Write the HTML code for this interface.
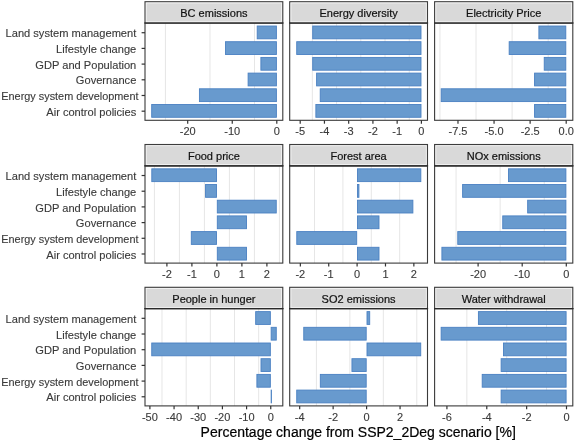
<!DOCTYPE html>
<html><head><meta charset="utf-8"><style>
html,body{margin:0;padding:0;background:#fff;width:575px;height:441px;overflow:hidden}
svg{display:block;font-family:"Liberation Sans",sans-serif;will-change:transform}
text.a{fill:#3a3a3a;stroke:#3a3a3a;stroke-width:0.12px}
text.s{fill:#111;stroke:#111;stroke-width:0.2px}
text.t{fill:#000;stroke:#000;stroke-width:0.2px}
</style></head><body>
<svg width="575" height="441" viewBox="0 0 575 441">
<rect x="0" y="0" width="575" height="441" fill="#fff"/>
<line x1="165.43" y1="23.00" x2="165.43" y2="120.30" stroke="#E6E6E6" stroke-width="1"/>
<line x1="209.98" y1="23.00" x2="209.98" y2="120.30" stroke="#E6E6E6" stroke-width="1"/>
<line x1="254.53" y1="23.00" x2="254.53" y2="120.30" stroke="#E6E6E6" stroke-width="1"/>
<rect x="257.20" y="26.02" width="19.20" height="12.80" fill="#689ACE" stroke="#4A80C2" stroke-width="0.9"/>
<rect x="225.52" y="41.71" width="50.88" height="12.80" fill="#689ACE" stroke="#4A80C2" stroke-width="0.9"/>
<rect x="260.89" y="57.40" width="15.51" height="12.80" fill="#689ACE" stroke="#4A80C2" stroke-width="0.9"/>
<rect x="248.11" y="73.10" width="28.29" height="12.80" fill="#689ACE" stroke="#4A80C2" stroke-width="0.9"/>
<rect x="199.42" y="88.79" width="76.98" height="12.80" fill="#689ACE" stroke="#4A80C2" stroke-width="0.9"/>
<rect x="151.70" y="104.48" width="124.70" height="12.80" fill="#689ACE" stroke="#4A80C2" stroke-width="0.9"/>
<rect x="145.00" y="23.00" width="137.80" height="97.30" fill="none" stroke="#3a3a3a" stroke-width="1.1"/>
<rect x="145.00" y="1.70" width="137.80" height="21.30" fill="#D9D9D9" stroke="#3d3d3d" stroke-width="1.1"/>
<rect x="146.25" y="2.95" width="135.30" height="18.80" fill="none" stroke="#fff" stroke-opacity="0.75" stroke-width="0.8"/>
<line x1="144.40" y1="23.00" x2="283.40" y2="23.00" stroke="#2a2a2a" stroke-width="1.15"/>
<text x="213.90" y="17.10" font-size="11" class="s" text-anchor="middle">BC emissions</text>
<line x1="187.70" y1="120.30" x2="187.70" y2="123.70" stroke="#333333" stroke-width="1.2"/>
<text x="187.70" y="135.40" font-size="11" class="a" text-anchor="middle">-20</text>
<line x1="232.25" y1="120.30" x2="232.25" y2="123.70" stroke="#333333" stroke-width="1.2"/>
<text x="232.25" y="135.40" font-size="11" class="a" text-anchor="middle">-10</text>
<line x1="276.80" y1="120.30" x2="276.80" y2="123.70" stroke="#333333" stroke-width="1.2"/>
<text x="276.80" y="135.40" font-size="11" class="a" text-anchor="middle">0</text>
<line x1="141.60" y1="32.72" x2="145.00" y2="32.72" stroke="#333333" stroke-width="1.2"/>
<text x="136.3" y="37.32" font-size="11.1" class="a" text-anchor="end">Land system management</text>
<line x1="141.60" y1="48.41" x2="145.00" y2="48.41" stroke="#333333" stroke-width="1.2"/>
<text x="136.3" y="53.01" font-size="11.1" class="a" text-anchor="end">Lifestyle change</text>
<line x1="141.60" y1="64.10" x2="145.00" y2="64.10" stroke="#333333" stroke-width="1.2"/>
<text x="136.3" y="68.70" font-size="11.1" class="a" text-anchor="end">GDP and Population</text>
<line x1="141.60" y1="79.80" x2="145.00" y2="79.80" stroke="#333333" stroke-width="1.2"/>
<text x="136.3" y="84.40" font-size="11.1" class="a" text-anchor="end">Governance</text>
<line x1="141.60" y1="95.49" x2="145.00" y2="95.49" stroke="#333333" stroke-width="1.2"/>
<text x="1.3" y="100.09" font-size="11.1" class="a" textLength="137.2" lengthAdjust="spacingAndGlyphs">Energy system development</text>
<line x1="141.60" y1="111.18" x2="145.00" y2="111.18" stroke="#333333" stroke-width="1.2"/>
<text x="136.3" y="115.78" font-size="11.1" class="a" text-anchor="end">Air control policies</text>
<line x1="312.32" y1="23.00" x2="312.32" y2="120.30" stroke="#E6E6E6" stroke-width="1"/>
<line x1="336.56" y1="23.00" x2="336.56" y2="120.30" stroke="#E6E6E6" stroke-width="1"/>
<line x1="360.80" y1="23.00" x2="360.80" y2="120.30" stroke="#E6E6E6" stroke-width="1"/>
<line x1="385.04" y1="23.00" x2="385.04" y2="120.30" stroke="#E6E6E6" stroke-width="1"/>
<line x1="409.28" y1="23.00" x2="409.28" y2="120.30" stroke="#E6E6E6" stroke-width="1"/>
<rect x="312.72" y="26.02" width="108.28" height="12.80" fill="#689ACE" stroke="#4A80C2" stroke-width="0.9"/>
<rect x="296.72" y="41.71" width="124.28" height="12.80" fill="#689ACE" stroke="#4A80C2" stroke-width="0.9"/>
<rect x="312.72" y="57.40" width="108.28" height="12.80" fill="#689ACE" stroke="#4A80C2" stroke-width="0.9"/>
<rect x="316.60" y="73.10" width="104.40" height="12.80" fill="#689ACE" stroke="#4A80C2" stroke-width="0.9"/>
<rect x="320.23" y="88.79" width="100.77" height="12.80" fill="#689ACE" stroke="#4A80C2" stroke-width="0.9"/>
<rect x="315.87" y="104.48" width="105.13" height="12.80" fill="#689ACE" stroke="#4A80C2" stroke-width="0.9"/>
<rect x="289.70" y="23.00" width="137.80" height="97.30" fill="none" stroke="#3a3a3a" stroke-width="1.1"/>
<rect x="289.70" y="1.70" width="137.80" height="21.30" fill="#D9D9D9" stroke="#3d3d3d" stroke-width="1.1"/>
<rect x="290.95" y="2.95" width="135.30" height="18.80" fill="none" stroke="#fff" stroke-opacity="0.75" stroke-width="0.8"/>
<line x1="289.10" y1="23.00" x2="428.10" y2="23.00" stroke="#2a2a2a" stroke-width="1.15"/>
<text x="358.60" y="17.10" font-size="11" class="s" text-anchor="middle">Energy diversity</text>
<line x1="300.20" y1="120.30" x2="300.20" y2="123.70" stroke="#333333" stroke-width="1.2"/>
<text x="300.20" y="135.40" font-size="11" class="a" text-anchor="middle">-5</text>
<line x1="324.44" y1="120.30" x2="324.44" y2="123.70" stroke="#333333" stroke-width="1.2"/>
<text x="324.44" y="135.40" font-size="11" class="a" text-anchor="middle">-4</text>
<line x1="348.68" y1="120.30" x2="348.68" y2="123.70" stroke="#333333" stroke-width="1.2"/>
<text x="348.68" y="135.40" font-size="11" class="a" text-anchor="middle">-3</text>
<line x1="372.92" y1="120.30" x2="372.92" y2="123.70" stroke="#333333" stroke-width="1.2"/>
<text x="372.92" y="135.40" font-size="11" class="a" text-anchor="middle">-2</text>
<line x1="397.16" y1="120.30" x2="397.16" y2="123.70" stroke="#333333" stroke-width="1.2"/>
<text x="397.16" y="135.40" font-size="11" class="a" text-anchor="middle">-1</text>
<line x1="421.40" y1="120.30" x2="421.40" y2="123.70" stroke="#333333" stroke-width="1.2"/>
<text x="421.40" y="135.40" font-size="11" class="a" text-anchor="middle">0</text>
<line x1="439.94" y1="23.00" x2="439.94" y2="120.30" stroke="#E6E6E6" stroke-width="1"/>
<line x1="476.01" y1="23.00" x2="476.01" y2="120.30" stroke="#E6E6E6" stroke-width="1"/>
<line x1="512.09" y1="23.00" x2="512.09" y2="120.30" stroke="#E6E6E6" stroke-width="1"/>
<line x1="548.16" y1="23.00" x2="548.16" y2="120.30" stroke="#E6E6E6" stroke-width="1"/>
<rect x="538.89" y="26.02" width="26.91" height="12.80" fill="#689ACE" stroke="#4A80C2" stroke-width="0.9"/>
<rect x="509.17" y="41.71" width="56.63" height="12.80" fill="#689ACE" stroke="#4A80C2" stroke-width="0.9"/>
<rect x="544.23" y="57.40" width="21.57" height="12.80" fill="#689ACE" stroke="#4A80C2" stroke-width="0.9"/>
<rect x="534.57" y="73.10" width="31.23" height="12.80" fill="#689ACE" stroke="#4A80C2" stroke-width="0.9"/>
<rect x="441.20" y="88.79" width="124.60" height="12.80" fill="#689ACE" stroke="#4A80C2" stroke-width="0.9"/>
<rect x="534.57" y="104.48" width="31.23" height="12.80" fill="#689ACE" stroke="#4A80C2" stroke-width="0.9"/>
<rect x="434.60" y="23.00" width="138.20" height="97.30" fill="none" stroke="#3a3a3a" stroke-width="1.1"/>
<rect x="434.60" y="1.70" width="138.20" height="21.30" fill="#D9D9D9" stroke="#3d3d3d" stroke-width="1.1"/>
<rect x="435.85" y="2.95" width="135.70" height="18.80" fill="none" stroke="#fff" stroke-opacity="0.75" stroke-width="0.8"/>
<line x1="434.00" y1="23.00" x2="573.40" y2="23.00" stroke="#2a2a2a" stroke-width="1.15"/>
<text x="503.70" y="17.10" font-size="11" class="s" text-anchor="middle">Electricity Price</text>
<line x1="457.98" y1="120.30" x2="457.98" y2="123.70" stroke="#333333" stroke-width="1.2"/>
<text x="457.98" y="135.40" font-size="11" class="a" text-anchor="middle">-7.5</text>
<line x1="494.05" y1="120.30" x2="494.05" y2="123.70" stroke="#333333" stroke-width="1.2"/>
<text x="494.05" y="135.40" font-size="11" class="a" text-anchor="middle">-5.0</text>
<line x1="530.12" y1="120.30" x2="530.12" y2="123.70" stroke="#333333" stroke-width="1.2"/>
<text x="530.12" y="135.40" font-size="11" class="a" text-anchor="middle">-2.5</text>
<line x1="566.20" y1="120.30" x2="566.20" y2="123.70" stroke="#333333" stroke-width="1.2"/>
<text x="566.20" y="135.40" font-size="11" class="a" text-anchor="middle">0.0</text>
<line x1="154.40" y1="165.80" x2="154.40" y2="263.10" stroke="#E6E6E6" stroke-width="1"/>
<line x1="179.40" y1="165.80" x2="179.40" y2="263.10" stroke="#E6E6E6" stroke-width="1"/>
<line x1="204.40" y1="165.80" x2="204.40" y2="263.10" stroke="#E6E6E6" stroke-width="1"/>
<line x1="229.40" y1="165.80" x2="229.40" y2="263.10" stroke="#E6E6E6" stroke-width="1"/>
<line x1="254.40" y1="165.80" x2="254.40" y2="263.10" stroke="#E6E6E6" stroke-width="1"/>
<line x1="279.40" y1="165.80" x2="279.40" y2="263.10" stroke="#E6E6E6" stroke-width="1"/>
<rect x="151.80" y="168.82" width="64.70" height="12.80" fill="#689ACE" stroke="#4A80C2" stroke-width="0.9"/>
<rect x="205.55" y="184.51" width="10.95" height="12.80" fill="#689ACE" stroke="#4A80C2" stroke-width="0.9"/>
<rect x="217.30" y="200.20" width="58.95" height="12.80" fill="#689ACE" stroke="#4A80C2" stroke-width="0.9"/>
<rect x="217.30" y="215.90" width="29.20" height="12.80" fill="#689ACE" stroke="#4A80C2" stroke-width="0.9"/>
<rect x="191.30" y="231.59" width="25.20" height="12.80" fill="#689ACE" stroke="#4A80C2" stroke-width="0.9"/>
<rect x="217.30" y="247.28" width="29.20" height="12.80" fill="#689ACE" stroke="#4A80C2" stroke-width="0.9"/>
<rect x="145.00" y="165.80" width="137.80" height="97.30" fill="none" stroke="#3a3a3a" stroke-width="1.1"/>
<rect x="145.00" y="144.50" width="137.80" height="21.30" fill="#D9D9D9" stroke="#3d3d3d" stroke-width="1.1"/>
<rect x="146.25" y="145.75" width="135.30" height="18.80" fill="none" stroke="#fff" stroke-opacity="0.75" stroke-width="0.8"/>
<line x1="144.40" y1="165.80" x2="283.40" y2="165.80" stroke="#2a2a2a" stroke-width="1.15"/>
<text x="213.90" y="159.90" font-size="11" class="s" text-anchor="middle">Food price</text>
<line x1="166.90" y1="263.10" x2="166.90" y2="266.50" stroke="#333333" stroke-width="1.2"/>
<text x="166.90" y="278.20" font-size="11" class="a" text-anchor="middle">-2</text>
<line x1="191.90" y1="263.10" x2="191.90" y2="266.50" stroke="#333333" stroke-width="1.2"/>
<text x="191.90" y="278.20" font-size="11" class="a" text-anchor="middle">-1</text>
<line x1="216.90" y1="263.10" x2="216.90" y2="266.50" stroke="#333333" stroke-width="1.2"/>
<text x="216.90" y="278.20" font-size="11" class="a" text-anchor="middle">0</text>
<line x1="241.90" y1="263.10" x2="241.90" y2="266.50" stroke="#333333" stroke-width="1.2"/>
<text x="241.90" y="278.20" font-size="11" class="a" text-anchor="middle">1</text>
<line x1="266.90" y1="263.10" x2="266.90" y2="266.50" stroke="#333333" stroke-width="1.2"/>
<text x="266.90" y="278.20" font-size="11" class="a" text-anchor="middle">2</text>
<line x1="141.60" y1="175.52" x2="145.00" y2="175.52" stroke="#333333" stroke-width="1.2"/>
<text x="136.3" y="180.12" font-size="11.1" class="a" text-anchor="end">Land system management</text>
<line x1="141.60" y1="191.21" x2="145.00" y2="191.21" stroke="#333333" stroke-width="1.2"/>
<text x="136.3" y="195.81" font-size="11.1" class="a" text-anchor="end">Lifestyle change</text>
<line x1="141.60" y1="206.90" x2="145.00" y2="206.90" stroke="#333333" stroke-width="1.2"/>
<text x="136.3" y="211.50" font-size="11.1" class="a" text-anchor="end">GDP and Population</text>
<line x1="141.60" y1="222.60" x2="145.00" y2="222.60" stroke="#333333" stroke-width="1.2"/>
<text x="136.3" y="227.20" font-size="11.1" class="a" text-anchor="end">Governance</text>
<line x1="141.60" y1="238.29" x2="145.00" y2="238.29" stroke="#333333" stroke-width="1.2"/>
<text x="1.3" y="242.89" font-size="11.1" class="a" textLength="137.2" lengthAdjust="spacingAndGlyphs">Energy system development</text>
<line x1="141.60" y1="253.98" x2="145.00" y2="253.98" stroke="#333333" stroke-width="1.2"/>
<text x="136.3" y="258.58" font-size="11.1" class="a" text-anchor="end">Air control policies</text>
<line x1="314.54" y1="165.80" x2="314.54" y2="263.10" stroke="#E6E6E6" stroke-width="1"/>
<line x1="342.91" y1="165.80" x2="342.91" y2="263.10" stroke="#E6E6E6" stroke-width="1"/>
<line x1="371.29" y1="165.80" x2="371.29" y2="263.10" stroke="#E6E6E6" stroke-width="1"/>
<line x1="399.66" y1="165.80" x2="399.66" y2="263.10" stroke="#E6E6E6" stroke-width="1"/>
<rect x="357.50" y="168.82" width="63.33" height="12.80" fill="#689ACE" stroke="#4A80C2" stroke-width="0.9"/>
<rect x="357.50" y="184.51" width="1.41" height="12.80" fill="#689ACE" stroke="#4A80C2" stroke-width="0.9"/>
<rect x="357.50" y="200.20" width="55.38" height="12.80" fill="#689ACE" stroke="#4A80C2" stroke-width="0.9"/>
<rect x="357.50" y="215.90" width="21.50" height="12.80" fill="#689ACE" stroke="#4A80C2" stroke-width="0.9"/>
<rect x="296.78" y="231.59" width="59.92" height="12.80" fill="#689ACE" stroke="#4A80C2" stroke-width="0.9"/>
<rect x="357.50" y="247.28" width="21.50" height="12.80" fill="#689ACE" stroke="#4A80C2" stroke-width="0.9"/>
<rect x="289.70" y="165.80" width="137.80" height="97.30" fill="none" stroke="#3a3a3a" stroke-width="1.1"/>
<rect x="289.70" y="144.50" width="137.80" height="21.30" fill="#D9D9D9" stroke="#3d3d3d" stroke-width="1.1"/>
<rect x="290.95" y="145.75" width="135.30" height="18.80" fill="none" stroke="#fff" stroke-opacity="0.75" stroke-width="0.8"/>
<line x1="289.10" y1="165.80" x2="428.10" y2="165.80" stroke="#2a2a2a" stroke-width="1.15"/>
<text x="358.60" y="159.90" font-size="11" class="s" text-anchor="middle">Forest area</text>
<line x1="300.35" y1="263.10" x2="300.35" y2="266.50" stroke="#333333" stroke-width="1.2"/>
<text x="300.35" y="278.20" font-size="11" class="a" text-anchor="middle">-2</text>
<line x1="328.73" y1="263.10" x2="328.73" y2="266.50" stroke="#333333" stroke-width="1.2"/>
<text x="328.73" y="278.20" font-size="11" class="a" text-anchor="middle">-1</text>
<line x1="357.10" y1="263.10" x2="357.10" y2="266.50" stroke="#333333" stroke-width="1.2"/>
<text x="357.10" y="278.20" font-size="11" class="a" text-anchor="middle">0</text>
<line x1="385.48" y1="263.10" x2="385.48" y2="266.50" stroke="#333333" stroke-width="1.2"/>
<text x="385.48" y="278.20" font-size="11" class="a" text-anchor="middle">1</text>
<line x1="413.85" y1="263.10" x2="413.85" y2="266.50" stroke="#333333" stroke-width="1.2"/>
<text x="413.85" y="278.20" font-size="11" class="a" text-anchor="middle">2</text>
<line x1="456.05" y1="165.80" x2="456.05" y2="263.10" stroke="#E6E6E6" stroke-width="1"/>
<line x1="500.15" y1="165.80" x2="500.15" y2="263.10" stroke="#E6E6E6" stroke-width="1"/>
<line x1="544.25" y1="165.80" x2="544.25" y2="263.10" stroke="#E6E6E6" stroke-width="1"/>
<rect x="508.49" y="168.82" width="57.41" height="12.80" fill="#689ACE" stroke="#4A80C2" stroke-width="0.9"/>
<rect x="462.62" y="184.51" width="103.28" height="12.80" fill="#689ACE" stroke="#4A80C2" stroke-width="0.9"/>
<rect x="527.67" y="200.20" width="38.23" height="12.80" fill="#689ACE" stroke="#4A80C2" stroke-width="0.9"/>
<rect x="502.75" y="215.90" width="63.14" height="12.80" fill="#689ACE" stroke="#4A80C2" stroke-width="0.9"/>
<rect x="457.77" y="231.59" width="108.13" height="12.80" fill="#689ACE" stroke="#4A80C2" stroke-width="0.9"/>
<rect x="441.90" y="247.28" width="124.00" height="12.80" fill="#689ACE" stroke="#4A80C2" stroke-width="0.9"/>
<rect x="434.60" y="165.80" width="138.20" height="97.30" fill="none" stroke="#3a3a3a" stroke-width="1.1"/>
<rect x="434.60" y="144.50" width="138.20" height="21.30" fill="#D9D9D9" stroke="#3d3d3d" stroke-width="1.1"/>
<rect x="435.85" y="145.75" width="135.70" height="18.80" fill="none" stroke="#fff" stroke-opacity="0.75" stroke-width="0.8"/>
<line x1="434.00" y1="165.80" x2="573.40" y2="165.80" stroke="#2a2a2a" stroke-width="1.15"/>
<text x="503.70" y="159.90" font-size="11" class="s" text-anchor="middle">NOx emissions</text>
<line x1="478.10" y1="263.10" x2="478.10" y2="266.50" stroke="#333333" stroke-width="1.2"/>
<text x="478.10" y="278.20" font-size="11" class="a" text-anchor="middle">-20</text>
<line x1="522.20" y1="263.10" x2="522.20" y2="266.50" stroke="#333333" stroke-width="1.2"/>
<text x="522.20" y="278.20" font-size="11" class="a" text-anchor="middle">-10</text>
<line x1="566.30" y1="263.10" x2="566.30" y2="266.50" stroke="#333333" stroke-width="1.2"/>
<text x="566.30" y="278.20" font-size="11" class="a" text-anchor="middle">0</text>
<line x1="161.99" y1="308.60" x2="161.99" y2="405.90" stroke="#E6E6E6" stroke-width="1"/>
<line x1="186.16" y1="308.60" x2="186.16" y2="405.90" stroke="#E6E6E6" stroke-width="1"/>
<line x1="210.32" y1="308.60" x2="210.32" y2="405.90" stroke="#E6E6E6" stroke-width="1"/>
<line x1="234.50" y1="308.60" x2="234.50" y2="405.90" stroke="#E6E6E6" stroke-width="1"/>
<line x1="258.67" y1="308.60" x2="258.67" y2="405.90" stroke="#E6E6E6" stroke-width="1"/>
<rect x="255.68" y="311.62" width="14.67" height="12.80" fill="#689ACE" stroke="#4A80C2" stroke-width="0.9"/>
<rect x="271.15" y="327.31" width="5.12" height="12.80" fill="#689ACE" stroke="#4A80C2" stroke-width="0.9"/>
<rect x="151.75" y="343.00" width="118.60" height="12.80" fill="#689ACE" stroke="#4A80C2" stroke-width="0.9"/>
<rect x="261.00" y="358.70" width="9.35" height="12.80" fill="#689ACE" stroke="#4A80C2" stroke-width="0.9"/>
<rect x="256.89" y="374.39" width="13.46" height="12.80" fill="#689ACE" stroke="#4A80C2" stroke-width="0.9"/>
<rect x="271.15" y="390.08" width="0.29" height="12.80" fill="#689ACE" stroke="#4A80C2" stroke-width="0.9"/>
<rect x="145.00" y="308.60" width="137.80" height="97.30" fill="none" stroke="#3a3a3a" stroke-width="1.1"/>
<rect x="145.00" y="287.30" width="137.80" height="21.30" fill="#D9D9D9" stroke="#3d3d3d" stroke-width="1.1"/>
<rect x="146.25" y="288.55" width="135.30" height="18.80" fill="none" stroke="#fff" stroke-opacity="0.75" stroke-width="0.8"/>
<line x1="144.40" y1="308.60" x2="283.40" y2="308.60" stroke="#2a2a2a" stroke-width="1.15"/>
<text x="213.90" y="302.70" font-size="11" class="s" text-anchor="middle">People in hunger</text>
<line x1="149.90" y1="405.90" x2="149.90" y2="409.30" stroke="#333333" stroke-width="1.2"/>
<text x="149.90" y="421.00" font-size="11" class="a" text-anchor="middle">-50</text>
<line x1="174.07" y1="405.90" x2="174.07" y2="409.30" stroke="#333333" stroke-width="1.2"/>
<text x="174.07" y="421.00" font-size="11" class="a" text-anchor="middle">-40</text>
<line x1="198.24" y1="405.90" x2="198.24" y2="409.30" stroke="#333333" stroke-width="1.2"/>
<text x="198.24" y="421.00" font-size="11" class="a" text-anchor="middle">-30</text>
<line x1="222.41" y1="405.90" x2="222.41" y2="409.30" stroke="#333333" stroke-width="1.2"/>
<text x="222.41" y="421.00" font-size="11" class="a" text-anchor="middle">-20</text>
<line x1="246.58" y1="405.90" x2="246.58" y2="409.30" stroke="#333333" stroke-width="1.2"/>
<text x="246.58" y="421.00" font-size="11" class="a" text-anchor="middle">-10</text>
<line x1="270.75" y1="405.90" x2="270.75" y2="409.30" stroke="#333333" stroke-width="1.2"/>
<text x="270.75" y="421.00" font-size="11" class="a" text-anchor="middle">0</text>
<line x1="141.60" y1="318.32" x2="145.00" y2="318.32" stroke="#333333" stroke-width="1.2"/>
<text x="136.3" y="322.92" font-size="11.1" class="a" text-anchor="end">Land system management</text>
<line x1="141.60" y1="334.01" x2="145.00" y2="334.01" stroke="#333333" stroke-width="1.2"/>
<text x="136.3" y="338.61" font-size="11.1" class="a" text-anchor="end">Lifestyle change</text>
<line x1="141.60" y1="349.70" x2="145.00" y2="349.70" stroke="#333333" stroke-width="1.2"/>
<text x="136.3" y="354.30" font-size="11.1" class="a" text-anchor="end">GDP and Population</text>
<line x1="141.60" y1="365.40" x2="145.00" y2="365.40" stroke="#333333" stroke-width="1.2"/>
<text x="136.3" y="370.00" font-size="11.1" class="a" text-anchor="end">Governance</text>
<line x1="141.60" y1="381.09" x2="145.00" y2="381.09" stroke="#333333" stroke-width="1.2"/>
<text x="1.3" y="385.69" font-size="11.1" class="a" textLength="137.2" lengthAdjust="spacingAndGlyphs">Energy system development</text>
<line x1="141.60" y1="396.78" x2="145.00" y2="396.78" stroke="#333333" stroke-width="1.2"/>
<text x="136.3" y="401.38" font-size="11.1" class="a" text-anchor="end">Air control policies</text>
<line x1="316.41" y1="308.60" x2="316.41" y2="405.90" stroke="#E6E6E6" stroke-width="1"/>
<line x1="349.87" y1="308.60" x2="349.87" y2="405.90" stroke="#E6E6E6" stroke-width="1"/>
<line x1="383.33" y1="308.60" x2="383.33" y2="405.90" stroke="#E6E6E6" stroke-width="1"/>
<line x1="416.79" y1="308.60" x2="416.79" y2="405.90" stroke="#E6E6E6" stroke-width="1"/>
<rect x="367.00" y="311.62" width="2.71" height="12.80" fill="#689ACE" stroke="#4A80C2" stroke-width="0.9"/>
<rect x="303.76" y="327.31" width="62.44" height="12.80" fill="#689ACE" stroke="#4A80C2" stroke-width="0.9"/>
<rect x="367.00" y="343.00" width="53.74" height="12.80" fill="#689ACE" stroke="#4A80C2" stroke-width="0.9"/>
<rect x="351.94" y="358.70" width="14.26" height="12.80" fill="#689ACE" stroke="#4A80C2" stroke-width="0.9"/>
<rect x="320.32" y="374.39" width="45.88" height="12.80" fill="#689ACE" stroke="#4A80C2" stroke-width="0.9"/>
<rect x="296.73" y="390.08" width="69.47" height="12.80" fill="#689ACE" stroke="#4A80C2" stroke-width="0.9"/>
<rect x="289.70" y="308.60" width="137.80" height="97.30" fill="none" stroke="#3a3a3a" stroke-width="1.1"/>
<rect x="289.70" y="287.30" width="137.80" height="21.30" fill="#D9D9D9" stroke="#3d3d3d" stroke-width="1.1"/>
<rect x="290.95" y="288.55" width="135.30" height="18.80" fill="none" stroke="#fff" stroke-opacity="0.75" stroke-width="0.8"/>
<line x1="289.10" y1="308.60" x2="428.10" y2="308.60" stroke="#2a2a2a" stroke-width="1.15"/>
<text x="358.60" y="302.70" font-size="11" class="s" text-anchor="middle">SO2 emissions</text>
<line x1="299.68" y1="405.90" x2="299.68" y2="409.30" stroke="#333333" stroke-width="1.2"/>
<text x="299.68" y="421.00" font-size="11" class="a" text-anchor="middle">-4</text>
<line x1="333.14" y1="405.90" x2="333.14" y2="409.30" stroke="#333333" stroke-width="1.2"/>
<text x="333.14" y="421.00" font-size="11" class="a" text-anchor="middle">-2</text>
<line x1="366.60" y1="405.90" x2="366.60" y2="409.30" stroke="#333333" stroke-width="1.2"/>
<text x="366.60" y="421.00" font-size="11" class="a" text-anchor="middle">0</text>
<line x1="400.06" y1="405.90" x2="400.06" y2="409.30" stroke="#333333" stroke-width="1.2"/>
<text x="400.06" y="421.00" font-size="11" class="a" text-anchor="middle">2</text>
<line x1="466.85" y1="308.60" x2="466.85" y2="405.90" stroke="#E6E6E6" stroke-width="1"/>
<line x1="506.71" y1="308.60" x2="506.71" y2="405.90" stroke="#E6E6E6" stroke-width="1"/>
<line x1="546.57" y1="308.60" x2="546.57" y2="405.90" stroke="#E6E6E6" stroke-width="1"/>
<rect x="478.41" y="311.62" width="87.69" height="12.80" fill="#689ACE" stroke="#4A80C2" stroke-width="0.9"/>
<rect x="441.14" y="327.31" width="124.96" height="12.80" fill="#689ACE" stroke="#4A80C2" stroke-width="0.9"/>
<rect x="503.52" y="343.00" width="62.58" height="12.80" fill="#689ACE" stroke="#4A80C2" stroke-width="0.9"/>
<rect x="501.13" y="358.70" width="64.97" height="12.80" fill="#689ACE" stroke="#4A80C2" stroke-width="0.9"/>
<rect x="482.20" y="374.39" width="83.90" height="12.80" fill="#689ACE" stroke="#4A80C2" stroke-width="0.9"/>
<rect x="501.13" y="390.08" width="64.97" height="12.80" fill="#689ACE" stroke="#4A80C2" stroke-width="0.9"/>
<rect x="434.60" y="308.60" width="138.20" height="97.30" fill="none" stroke="#3a3a3a" stroke-width="1.1"/>
<rect x="434.60" y="287.30" width="138.20" height="21.30" fill="#D9D9D9" stroke="#3d3d3d" stroke-width="1.1"/>
<rect x="435.85" y="288.55" width="135.70" height="18.80" fill="none" stroke="#fff" stroke-opacity="0.75" stroke-width="0.8"/>
<line x1="434.00" y1="308.60" x2="573.40" y2="308.60" stroke="#2a2a2a" stroke-width="1.15"/>
<text x="503.70" y="302.70" font-size="11" class="s" text-anchor="middle">Water withdrawal</text>
<line x1="446.92" y1="405.90" x2="446.92" y2="409.30" stroke="#333333" stroke-width="1.2"/>
<text x="446.92" y="421.00" font-size="11" class="a" text-anchor="middle">-6</text>
<line x1="486.78" y1="405.90" x2="486.78" y2="409.30" stroke="#333333" stroke-width="1.2"/>
<text x="486.78" y="421.00" font-size="11" class="a" text-anchor="middle">-4</text>
<line x1="526.64" y1="405.90" x2="526.64" y2="409.30" stroke="#333333" stroke-width="1.2"/>
<text x="526.64" y="421.00" font-size="11" class="a" text-anchor="middle">-2</text>
<line x1="566.50" y1="405.90" x2="566.50" y2="409.30" stroke="#333333" stroke-width="1.2"/>
<text x="566.50" y="421.00" font-size="11" class="a" text-anchor="middle">0</text>
<text x="358.2" y="437.2" font-size="14" class="t" text-anchor="middle">Percentage change from SSP2_2Deg scenario [%]</text>
</svg>
</body></html>
